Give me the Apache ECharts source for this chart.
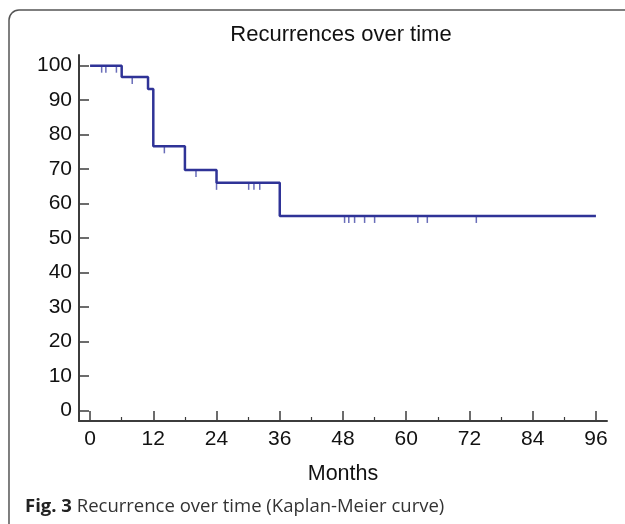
<!DOCTYPE html>
<html>
<head>
<meta charset="utf-8">
<script src="https://cdn.jsdelivr.net/npm/echarts@6/dist/echarts.min.js"></script>
<style>
html,body{margin:0;padding:0;background:#fff;}
#chart{width:625px;height:524px;}
</style>
</head>
<body>
<div id="chart"></div>
<script>
// Kaplan-Meier step points (months, % recurrence-free)
const eventMonths = [0, 6, 11, 12, 18, 24, 36, 96];
const survival = [100, 96.7, 93.2, 76.6, 69.7, 66.0, 56.4, 56.4];
// censored observations
const censorMonths = [2.2, 3.0, 5.0, 8.0, 14.1, 20.1, 24.0, 30.1, 31.1, 32.2, 48.3, 49.1, 50.2, 52.1, 54.0, 62.2, 64.0, 73.3];
const censorSurvival = [100, 100, 100, 96.7, 76.6, 69.7, 66.0, 66.0, 66.0, 66.0, 56.4, 56.4, 56.4, 56.4, 56.4, 56.4, 56.4, 56.4];
// axis ticks
const xTicks = [0, 12, 24, 36, 48, 60, 72, 84, 96];
const xMinorTicks = [6, 18, 30, 42, 54, 66, 78, 90];
const yTicks = [0, 10, 20, 30, 40, 50, 60, 70, 80, 90, 100];

const titleText = 'Recurrences over time';
const xName = 'Months';
const captionBold = 'Fig. 3';
const captionRest = ' Recurrence over time (Kaplan-Meier curve)';

const lineColor = '#2f3397';
const axisColor = '#3c3c3c';
const font = '"Liberation Sans", Arial, sans-serif';

const chart = echarts.init(document.getElementById('chart'), null, {renderer: 'canvas'});
chart.setOption({
  animation: false,
  backgroundColor: '#fff',
  grid: {left: 79, right: 18, top: 55, bottom: 103, containLabel: false},
  xAxis: [{
    type: 'value', min: -2.1, max: 98.1, position: 'bottom',
    axisLine: {show: true, onZero: false, lineStyle: {color: axisColor, width: 2}},
    axisTick: {show: true, inside: true, length: 10, customValues: xTicks, lineStyle: {color: axisColor, width: 1.5}},
    axisLabel: {show: true, customValues: xTicks, margin: 8, color: '#111', fontFamily: font, fontSize: 21},
    splitLine: {show: false},
    name: xName, nameLocation: 'middle', nameGap: 42,
    nameTextStyle: {color: '#111', fontFamily: font, fontSize: 21.5}
  }, {
    type: 'value', min: -2.1, max: 98.1, position: 'bottom',
    axisLine: {show: false, onZero: false},
    axisTick: {show: true, inside: true, length: 4, customValues: xMinorTicks, lineStyle: {color: axisColor, width: 1.2}},
    axisLabel: {show: false},
    splitLine: {show: false}
  }],
  yAxis: {
    type: 'value', min: -3.1, max: 103.1,
    axisLine: {show: true, onZero: false, lineStyle: {color: axisColor, width: 2}},
    axisTick: {show: true, inside: true, length: 10, customValues: yTicks, lineStyle: {color: axisColor, width: 1.5}},
    axisLabel: {show: true, customValues: yTicks, margin: 7, color: '#111', fontFamily: font, fontSize: 21},
    splitLine: {show: false}
  },
  graphic: [
    {type: 'rect', z: -1, shape: {x: 9, y: 10, width: 660, height: 560, r: 10}, style: {fill: 'none', stroke: '#555', lineWidth: 1.5}},
    {type: 'text', x: 341, y: 35, style: {text: titleText, align: 'center', verticalAlign: 'middle', font: '22px ' + font, fill: '#111'}},
    {type: 'text', x: 25, y: 507, style: {
      text: '{b|' + captionBold + '}{r|' + captionRest + '}',
      verticalAlign: 'middle',
      rich: {
        b: {fontFamily: '"Open Sans", sans-serif', fontWeight: 'bold', fontSize: 18.5, fill: '#222'},
        r: {fontFamily: '"Open Sans", sans-serif', fontWeight: 'normal', fontSize: 18.5, fill: '#333'}
      }
    }}
  ],
  series: [{
    type: 'line', step: 'end', showSymbol: false, symbol: 'none',
    data: eventMonths.map((m, i) => [m, survival[i]]),
    lineStyle: {color: lineColor, width: 2.5}
  }, {
    type: 'scatter', symbol: 'rect', symbolSize: [1.5, 7], symbolOffset: [0, 3.5],
    data: censorMonths.map((m, i) => [m, censorSurvival[i]]),
    itemStyle: {color: '#4448a8'}
  }]
});
</script>
</body>
</html>
